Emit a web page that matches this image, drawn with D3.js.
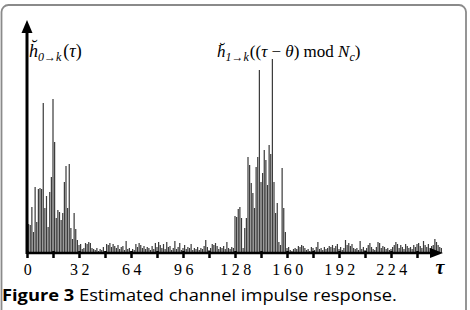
<!DOCTYPE html>
<html>
<head>
<meta charset="utf-8">
<script src="https://cdn.jsdelivr.net/npm/d3@7"></script>
<style>
  html, body { margin: 0; padding: 0; background: #fff; }
  svg { display: block; }
  .tick text { font-family: 'Liberation Serif', serif; font-size: 16px; letter-spacing: 3.5px; fill: #000; }
  .math { font-family: 'Liberation Serif', serif; font-style: italic; fill: #000; }
  .caption { font-family: 'Open Sans', sans-serif; font-size: 15.5px; fill: #000; }
</style>
</head>
<body>
<script>
// estimated |h| per delay tap (arbitrary units)
const pathA = [30, 29, 28, 46, 21, 66, 31, 64, 65, 64, 150, 45, 57, 26, 61, 76,
  154, 111, 35, 43, 41, 33, 40, 71, 87, 45, 89, 25, 14, 40, 24, 13, 8, 9]
const noiseA = [4, 5, 10, 9, 11, 10, 5, 4, 3, 5, 2, 4, 3, 6, 2, 9,
  8, 10, 6, 9, 7, 5, 8, 4, 6, 7, 3, 12, 4, 5, 2, 4,
  3, 9, 6, 10, 8, 5, 7, 4, 6, 5, 3, 7, 4, 10, 6, 11,
  8, 5, 9, 4, 11, 6, 7, 3, 5, 12, 4, 6, 10, 3, 5, 8,
  4, 6, 5, 9, 3, 5, 4, 6, 3, 5, 4, 7, 13, 6, 3, 5,
  9, 8, 10, 7, 4, 6, 5, 7, 4, 11, 5, 4, 6, 5]
const pathB = [37, 36, 44, 46, 35, 5, 25, 35, 96, 88, 70, 60, 45, 86, 96, 183,
  71, 80, 103, 93, 68, 108, 99, 194, 71, 40, 50, 11, 8, 85, 45, 21, 5, 6]
const noiseB = [3, 2, 4, 5, 4, 7, 6, 8, 7, 5, 3, 4, 2, 6, 5, 3,
  6, 11, 4, 5, 3, 6, 4, 5, 7, 6, 8, 5, 7, 9, 4, 6,
  3, 5, 13, 8, 10, 7, 9, 5, 4, 5, 3, 12, 4, 6, 3, 5,
  8, 10, 6, 4, 3, 6, 11, 10, 5, 7, 6, 4, 5, 3, 4, 6,
  8, 11, 9, 5, 8, 6, 4, 9, 7, 5, 6, 4, 8, 6, 9, 10,
  7, 5, 12, 8, 6, 9, 5, 7, 8, 14, 11, 8, 6, 5]
const tickLabels = [0, 32, 64, 96, 128, 160, 192, 224]

const amplitude = [...pathA, ...noiseA, ...pathB, ...noiseB]

const w = 470
const h = 310
const baseY = 253

const svg = d3.select('body').append('svg')
    .attr('width', w)
    .attr('height', h)

// figure frame
svg.append('rect')
    .attr('x', 1.5)
    .attr('y', 5)
    .attr('width', 464.5)
    .attr('height', 330)
    .attr('rx', 7)
    .attr('fill', 'none')
    .attr('stroke', '#8a8a8a')
    .attr('stroke-width', 1.8)

const x = d3.scaleLinear().domain([0, 256]).range([27, 443])
const y = d3.scaleLinear().domain([0, 200]).range([baseY, baseY - 200])

svg.selectAll('.bar')
    .data(amplitude)
    .enter()
    .append('rect')
    .attr('class', 'bar')
    .attr('x', (d, i) => x(i) - 0.6)
    .attr('y', d => y(d))
    .attr('width', 1.2)
    .attr('height', d => y(0) - y(d))
    .attr('fill', '#3a3a3a')

// x axis with ticks every 16 taps
const xAxis = d3.axisBottom(x)
    .tickValues(d3.range(0, 256, 16))
    .tickSize(5)
    .tickSizeOuter(0)
    .tickPadding(6)
    .tickFormat(d => tickLabels.includes(d) ? d : '')

const gx = svg.append('g')
    .attr('transform', `translate(0, ${baseY})`)
    .call(xAxis)
gx.select('.domain').remove()
gx.selectAll('.tick line')
    .attr('y1', -2)
    .attr('stroke', '#000')
    .attr('stroke-width', 2.5)
gx.selectAll('.tick text')
    .attr('dx', 2)

svg.append('line')
    .attr('x1', x(0)).attr('x2', x(250))
    .attr('y1', baseY).attr('y2', baseY)
    .attr('stroke', '#000')
    .attr('stroke-width', 2.6)
svg.append('path')
    .attr('d', `M${x(256)},${baseY} L${x(256) - 13},${baseY - 5} L${x(256) - 13},${baseY + 5} Z`)
    .attr('fill', '#000')

// y axis
svg.append('line')
    .attr('x1', x(0)).attr('x2', x(0))
    .attr('y1', baseY + 1).attr('y2', 30)
    .attr('stroke', '#000')
    .attr('stroke-width', 3)
svg.append('path')
    .attr('d', `M${x(0)},20 L${x(0) - 5.5},33 L${x(0) + 5.5},33 Z`)
    .attr('fill', '#000')

// tau label
svg.append('text')
    .attr('class', 'math')
    .attr('x', 440)
    .attr('y', 274)
    .attr('text-anchor', 'middle')
    .style('font-size', '20px')
    .style('font-weight', 'bold')
    .text('τ')

// curve labels
const lab1 = svg.append('text')
    .attr('class', 'math')
    .attr('x', 29)
    .attr('y', 57)
    .style('font-size', '18px')
lab1.append('tspan').text('h\u0306')
lab1.append('tspan').attr('dy', 4).style('font-size', '12px').text('0\u2192k')
lab1.append('tspan').attr('dy', -4).attr('dx', 2).style('font-style', 'normal').text('(')
lab1.append('tspan').text('τ')
lab1.append('tspan').style('font-style', 'normal').text(')')

const lab2 = svg.append('text')
    .attr('class', 'math')
    .attr('x', 217)
    .attr('y', 57)
    .style('font-size', '17px')
lab2.append('tspan').text('h\u0306')
lab2.append('tspan').attr('dy', 4).style('font-size', '12px').text('1\u2192k')
lab2.append('tspan').attr('dy', -4).attr('dx', 1).style('font-style', 'normal').text('((')
lab2.append('tspan').text('τ')
lab2.append('tspan').style('font-style', 'normal').text(' \u2212 ')
lab2.append('tspan').text('θ')
lab2.append('tspan').style('font-style', 'normal').text(') mod ')
lab2.append('tspan').text('N')
lab2.append('tspan').attr('dy', 4).style('font-size', '12px').text('c')
lab2.append('tspan').attr('dy', -4).style('font-style', 'normal').text(')')

// caption, stretched to the width it has in the figure
const cap = svg.append('text')
    .attr('class', 'caption')
    .attr('x', 0)
    .attr('y', 0)
cap.append('tspan').style('font-weight', 'bold').text('Figure 3')
cap.append('tspan').text(' Estimated channel impulse response.')
const capW = cap.node().getComputedTextLength()
cap.attr('transform', `translate(2, 301) scale(${395 / capW}, 1)`)
</script>
</body>
</html>
